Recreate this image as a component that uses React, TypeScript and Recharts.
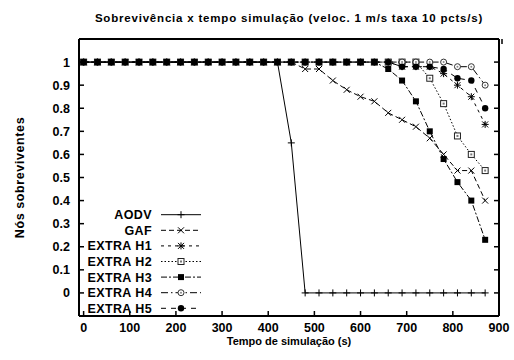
import { LineChart, Line, XAxis, YAxis, Legend, Label } from 'recharts';

const FONT = '"Liberation Sans", Arial, sans-serif';
const TITLE = 'Sobrevivência x tempo simulação (veloc. 1 m/s taxa 10 pcts/s)';

// tempo de simulação (s)
const times = [0, 30, 60, 90, 120, 150, 180, 210, 240, 270, 300, 330, 360, 390, 420, 450, 480, 510, 540, 570, 600, 630, 660, 690, 720, 750, 780, 810, 840, 870];

// fração de nós sobreviventes
const aodv = [1, 1, 1, 1, 1, 1, 1, 1, 1, 1, 1, 1, 1, 1, 1, 0.65, 0, 0, 0, 0, 0, 0, 0, 0, 0, 0, 0, 0, 0, 0];
const gaf = [1, 1, 1, 1, 1, 1, 1, 1, 1, 1, 1, 1, 1, 1, 1, 1, 0.97, 0.97, 0.92, 0.88, 0.85, 0.83, 0.78, 0.75, 0.72, 0.67, 0.6, 0.53, 0.53, 0.4];
const extraH1 = [1, 1, 1, 1, 1, 1, 1, 1, 1, 1, 1, 1, 1, 1, 1, 1, 1, 1, 1, 1, 1, 1, 1, 0.98, 0.98, 0.98, 0.95, 0.9, 0.85, 0.73];
const extraH2 = [1, 1, 1, 1, 1, 1, 1, 1, 1, 1, 1, 1, 1, 1, 1, 1, 1, 1, 1, 1, 1, 1, 1, 1, 1, 0.93, 0.82, 0.68, 0.6, 0.53];
const extraH3 = [1, 1, 1, 1, 1, 1, 1, 1, 1, 1, 1, 1, 1, 1, 1, 1, 1, 1, 1, 1, 1, 1, 0.97, 0.92, 0.83, 0.7, 0.58, 0.48, 0.4, 0.23];
const extraH4 = [1, 1, 1, 1, 1, 1, 1, 1, 1, 1, 1, 1, 1, 1, 1, 1, 1, 1, 1, 1, 1, 1, 1, 1, 1, 1, 1, 0.98, 0.98, 0.9];
const extraH5 = [1, 1, 1, 1, 1, 1, 1, 1, 1, 1, 1, 1, 1, 1, 1, 1, 1, 1, 1, 1, 1, 1, 1, 0.98, 0.98, 0.98, 0.97, 0.93, 0.92, 0.8];

const xTicks = [0, 100, 200, 300, 400, 500, 600, 700, 800, 900];
const yTicks = [0, 0.1, 0.2, 0.3, 0.4, 0.5, 0.6, 0.7, 0.8, 0.9, 1];

type MarkerKind = 'plus' | 'cross' | 'star' | 'boxDot' | 'box' | 'circleDot' | 'disc';

interface Serie {
  key: string;
  name: string;
  values: number[];
  dash?: string;
  marker: MarkerKind;
}

const series: Serie[] = [
  { key: 'aodv', name: 'AODV', values: aodv, marker: 'plus' },
  { key: 'gaf', name: 'GAF', values: gaf, dash: '5 3', marker: 'cross' },
  { key: 'h1', name: 'EXTRA H1', values: extraH1, dash: '3 4', marker: 'star' },
  { key: 'h2', name: 'EXTRA H2', values: extraH2, dash: '1.5 2', marker: 'boxDot' },
  { key: 'h3', name: 'EXTRA H3', values: extraH3, dash: '6 2 2 2', marker: 'box' },
  { key: 'h4', name: 'EXTRA H4', values: extraH4, dash: '7 3 1.5 3', marker: 'circleDot' },
  { key: 'h5', name: 'EXTRA H5', values: extraH5, dash: '5 5', marker: 'disc' },
];

// ordem de desenho: quadrados cheios por cima
const drawOrder = ['aodv', 'gaf', 'h1', 'h2', 'h4', 'h5', 'h3'];

const data = times.map((t, i) => {
  const row: Record<string, number> = { t };
  series.forEach((s) => {
    row[s.key] = s.values[i];
  });
  return row;
});

const textStyle = { fontFamily: FONT, fontWeight: 'bold' as const, fill: '#000' };

function Marker({ kind, x, y }: { kind: MarkerKind; x: number; y: number }) {
  const s = 3.5;
  switch (kind) {
    case 'plus':
      return (
        <g stroke="#000" strokeWidth={1}>
          <line x1={x - s} y1={y} x2={x + s} y2={y} />
          <line x1={x} y1={y - s} x2={x} y2={y + s} />
        </g>
      );
    case 'cross':
      return (
        <g stroke="#000" strokeWidth={1}>
          <line x1={x - 3} y1={y - 3} x2={x + 3} y2={y + 3} />
          <line x1={x - 3} y1={y + 3} x2={x + 3} y2={y - 3} />
        </g>
      );
    case 'star':
      return (
        <g stroke="#000" strokeWidth={1}>
          <line x1={x - 3} y1={y - 3} x2={x + 3} y2={y + 3} />
          <line x1={x - 3} y1={y + 3} x2={x + 3} y2={y - 3} />
          <line x1={x - s} y1={y} x2={x + s} y2={y} />
          <line x1={x} y1={y - s} x2={x} y2={y + s} />
        </g>
      );
    case 'boxDot':
      return (
        <g>
          <rect x={x - 3} y={y - 3} width={6} height={6} fill="#fff" stroke="#222" strokeWidth={1} />
          <rect x={x - 1} y={y - 1} width={2} height={2} fill="#777" />
        </g>
      );
    case 'box':
      return <rect x={x - 3} y={y - 3} width={6} height={6} fill="#000" />;
    case 'circleDot':
      return (
        <g>
          <circle cx={x} cy={y} r={3} fill="#fff" stroke="#333" strokeWidth={1} />
          <circle cx={x} cy={y} r={1} fill="#888" />
        </g>
      );
    case 'disc':
      return <circle cx={x} cy={y} r={3.2} fill="#000" />;
  }
  return null;
}

const BottomTick = (props: any) => {
  const { x, y, payload } = props;
  return (
    <g>
      <line x1={x} y1={y} x2={x} y2={y - 5} stroke="#000" strokeWidth={1.5} />
      <text x={x} y={y + 16} textAnchor="middle" fontSize={12.5} {...textStyle}>
        {payload.value}
      </text>
    </g>
  );
};

const TopTick = (props: any) => {
  const { x, y } = props;
  return <line x1={x} y1={y} x2={x} y2={y + 5} stroke="#000" strokeWidth={1.5} />;
};

const LeftTick = (props: any) => {
  const { x, y, payload } = props;
  return (
    <g>
      <line x1={x} y1={y} x2={x + 5} y2={y} stroke="#000" strokeWidth={1.5} />
      <text x={x - 9} y={y + 4.5} textAnchor="end" fontSize={12.5} {...textStyle}>
        {String(payload.value)}
      </text>
    </g>
  );
};

const RightTick = (props: any) => {
  const { x, y } = props;
  return <line x1={x} y1={y} x2={x - 5} y2={y} stroke="#000" strokeWidth={1.5} />;
};

function LegendBox() {
  return (
    <svg width={210} height={120} style={{ display: 'block' }}>
      {series.map((s, i) => {
        const cy = 9.7 + i * 15.6;
        return (
          <g key={s.key}>
            <text x={152} y={cy + 4.5} textAnchor="end" fontSize={12.5} letterSpacing={0.4} {...textStyle}>
              {s.name}
            </text>
            <line x1={161} y1={cy} x2={201} y2={cy} stroke="#000" strokeWidth={1} strokeDasharray={s.dash} />
            <Marker kind={s.marker} x={181} y={cy} />
          </g>
        );
      })}
    </svg>
  );
}

export default function App() {
  return (
    <div style={{ position: 'absolute', left: 0, top: 0, background: '#fff' }}>
      <LineChart width={514} height={360} data={data} margin={{ top: 0, right: 0, bottom: 0, left: 0 }}>
        <XAxis
          dataKey="t"
          type="number"
          domain={[-10, 900]}
          ticks={xTicks}
          allowDataOverflow
          height={44}
          tickSize={0}
          tickMargin={0}
          tick={<BottomTick />}
          tickLine={false}
          axisLine={{ stroke: '#000', strokeWidth: 2 }}
        >
          <Label
            value="Tempo de simulação (s)"
            position="insideBottom"
            offset={15}
            style={{ ...textStyle, fontSize: 11 }}
          />
        </XAxis>
        <XAxis
          xAxisId="top"
          orientation="top"
          type="number"
          domain={[-10, 900]}
          ticks={xTicks}
          allowDataOverflow
          height={39}
          tickSize={0}
          tickMargin={0}
          tick={<TopTick />}
          tickLine={false}
          axisLine={{ stroke: '#000', strokeWidth: 2 }}
        >
          <Label
            value={TITLE}
            position="insideTop"
            offset={14}
            style={{ ...textStyle, fontSize: 11.5, letterSpacing: 0.8 }}
          />
        </XAxis>
        <YAxis
          type="number"
          domain={[-0.1, 1.1]}
          ticks={yTicks}
          allowDataOverflow
          width={79}
          tickSize={0}
          tickMargin={0}
          tick={<LeftTick />}
          tickLine={false}
          axisLine={{ stroke: '#000', strokeWidth: 2 }}
        >
          <Label
            value="Nós sobreviventes"
            position="insideLeft"
            angle={-90}
            offset={20}
            style={{ ...textStyle, fontSize: 12.5, letterSpacing: 0.6, textAnchor: 'middle' }}
          />
        </YAxis>
        <YAxis
          yAxisId="right"
          orientation="right"
          type="number"
          domain={[-0.1, 1.1]}
          ticks={yTicks}
          allowDataOverflow
          width={15}
          tickSize={0}
          tickMargin={0}
          tick={<RightTick />}
          tickLine={false}
          axisLine={{ stroke: '#000', strokeWidth: 2 }}
        />
        <Legend
          layout="vertical"
          align="center"
          verticalAlign="middle"
          wrapperStyle={{ position: 'absolute', left: 0, top: 205, width: 210, height: 120 }}
          content={() => <LegendBox />}
        />
        {drawOrder.map((k) => {
          const s = series.find((v) => v.key === k)!;
          return (
            <Line
              key={s.key}
              dataKey={s.key}
              name={s.name}
              type="linear"
              stroke="#000"
              strokeWidth={1}
              strokeDasharray={s.dash}
              activeDot={false}
              isAnimationActive={false}
              dot={(p: any) => <Marker key={`${s.key}-${p.index}`} kind={s.marker} x={p.cx} y={p.cy} />}
            />
          );
        })}
      </LineChart>
    </div>
  );
}
